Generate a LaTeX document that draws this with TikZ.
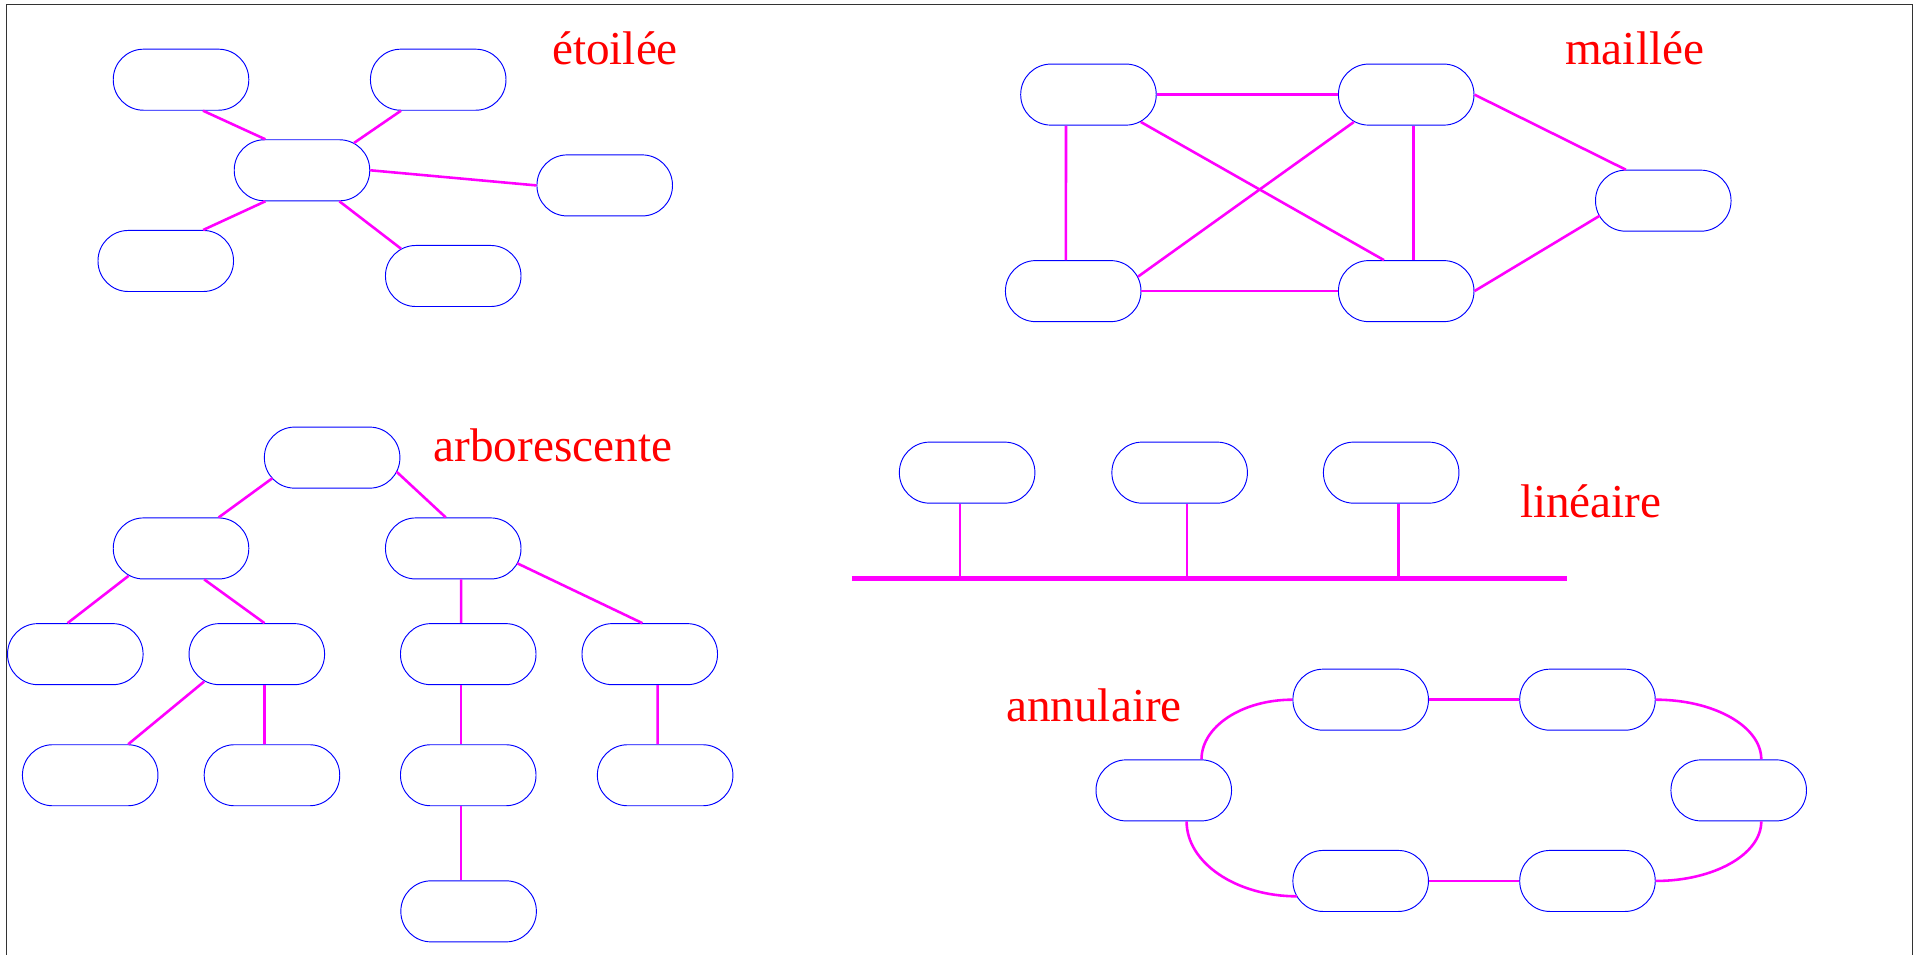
\documentclass[tikz,border=0pt]{standalone}
\usepackage{fontspec}
\setmainfont{Liberation Serif}
\usetikzlibrary{calc}
\definecolor{mag}{RGB}{255,0,255}
\definecolor{hostblue}{RGB}{0,0,255}
\definecolor{lblred}{RGB}{255,0,0}
\tikzset{
  host/.style={draw=hostblue, line width=0.55pt, rounded corners=0.62cm, minimum width=2.775cm, minimum height=1.25cm, inner sep=0pt},
  link/.style={draw=mag, line width=1.5pt},
  busline/.style={draw=mag, line width=3.1pt},
  lbl/.style={text=lblred, font=\fontsize{27.5}{33}\selectfont, anchor=base west, inner sep=0pt},
  frame/.style={draw=black!80, line width=0.6pt}
}
\newcommand\ringarc[2]{\draw[link] (#1) .. controls ($(#1)!0.5523!(#2 |- #1)$) and ($(#2)!0.5523!(#2 |- #1)$) .. (#2);}
\begin{document}
\begin{tikzpicture}[x=0.025cm, y=-0.025cm]
\useasboundingbox (0,0) rectangle (1568,782);
\coordinate (fBL) at (5.5,782);
\coordinate (fTL) at (5.5,3.7);
\coordinate (fTR) at (1566.4,3.7);
\coordinate (fBR) at (1566.4,782);
\draw[frame] (fBL) -- (fTL) -- (fTR) -- (fBR);

% ---------- etoilee ----------
\node[host] (sA) at (148.3,65.3) {};
\node[host] (sB) at (359,65.3) {};
\node[host] (sC) at (247.4,139.5) {};
\node[host] (sD) at (495.4,151.9) {};
\node[host] (sE) at (135.8,213.8) {};
\node[host] (sF) at (371.3,226.1) {};
\draw[link] ($(sA.south)+(18,0)$) -- ($(sC.north)+(-30,0)$);
\draw[link] ($(sB.south)+(-30.5,0)$) -- ($(sC.north)+(42.6,3)$);
\draw[link] (sC.east) -- (sD.west);
\draw[link] ($(sC.south)+(-30,0)$) -- ($(sE.north)+(30.6,0)$);
\draw[link] ($(sC.south)+(30.6,0)$) -- ($(sF.north)+(-42.8,3)$);
\node[lbl] (tEt) at (452,53) {étoilée};

% ---------- maillee ----------
\node[host] (mA) at (891.7,77.5) {};
\node[host] (mB) at (1152,77.5) {};
\node[host] (mC) at (1362.6,164.4) {};
\node[host] (mD) at (879.2,238.5) {};
\node[host] (mE) at (1152,238.5) {};
\draw[link] (mA.east) -- (mB.west);
\draw[link] ($(mA.south)+(-18.4,0)$) -- ($(mD.north)+(-6,0)$);
\draw[link] ($(mA.south)+(42.8,-3)$) -- ($(mE.north)+(-18.2,0)$);
\draw[link] ($(mB.south)+(-42.8,-3)$) -- ($(mD)+(53,-11.8)$);
\draw[link] ($(mB.south)+(6,0)$) -- ($(mE.north)+(6,0)$);
\draw[link] (mB.east) -- ($(mC.north)+(-30.7,0)$);
\draw[link] (mD.east) -- (mE.west);
\draw[link] (mE.east) -- ($(mC)+(-52,12.3)$);
\node[lbl] (tMa) at (1282,53) {maillée};

% ---------- arborescente ----------
\node[host] (tR) at (272.1,374.9) {};
\node[host] (tL) at (148.3,449.3) {};
\node[host] (tRr) at (371.3,449.3) {};
\node[host] (tLa) at (61.7,535.9) {};
\node[host] (tLb) at (210.4,535.9) {};
\node[host] (tRa) at (383.6,535.9) {};
\node[host] (tRb) at (532.3,535.9) {};
\node[host] (tLba) at (73.9,635.1) {};
\node[host] (tLbb) at (222.8,635.1) {};
\node[host] (tRaa) at (383.6,635.1) {};
\node[host] (tRba) at (544.9,635.1) {};
\node[host] (tRaaa) at (383.9,746.6) {};
\draw[link] ($(tR)+(-49,16.9)$) -- ($(tL.north)+(30.8,0)$);
\draw[link] ($(tR)+(52.7,11.5)$) -- ($(tRr.north)+(-6.1,0)$);
\draw[link] ($(tL.south)+(-42.9,-3)$) -- ($(tLa.north)+(-6.4,0)$);
\draw[link] ($(tL.south)+(19,0)$) -- ($(tLb.north)+(6.3,0)$);
\draw[link] ($(tRr.south)+(6.4,0)$) -- ($(tRa.north)+(-5.9,0)$);
\draw[link] ($(tRr)+(52.5,12.2)$) -- ($(tRb.north)+(-6,0)$);
\draw[link] ($(tLb.south)+(-43.1,-3)$) -- ($(tLba.north)+(31.1,0)$);
\draw[link] ($(tLb.south)+(6.3,0)$) -- ($(tLbb.north)+(-6.1,0)$);
\draw[link] ($(tRa.south)+(-5.9,0)$) -- ($(tRaa.north)+(-5.9,0)$);
\draw[link] ($(tRb.south)+(6.5,0)$) -- ($(tRba.north)+(-6.1,0)$);
\draw[link] ($(tRaa.south)+(-5.9,0)$) -- ($(tRaaa.north)+(-6.2,0)$);
\node[lbl] (tAr) at (355,378) {arborescente};

% ---------- lineaire ----------
\node[host] (lA) at (792.3,387.2) {};
\node[host] (lB) at (966.4,387.2) {};
\node[host] (lC) at (1139.7,387.2) {};
\coordinate (busL) at (697.8,474);
\coordinate (busR) at (1283.7,474);
\draw[busline] (busL) -- (busR);
\coordinate (dA) at ($(lA.south)+(-5.9,0)$);
\coordinate (dB) at ($(lB.south)+(6.1,0)$);
\coordinate (dC) at ($(lC.south)+(6.1,0)$);
\draw[link] (dA) -- (dA |- busL);
\draw[link] (dB) -- (dB |- busL);
\draw[link] (dC) -- (dC |- busL);
\node[lbl] (tLi) at (1245,424) {linéaire};

% ---------- annulaire ----------
\node[host] (rA) at (1114.7,573.2) {};
\node[host] (rB) at (1300.5,573.2) {};
\node[host] (rC) at (1424.4,647.5) {};
\node[host] (rD) at (1300.5,721.7) {};
\node[host] (rE) at (1114.7,721.7) {};
\node[host] (rF) at (953.4,647.5) {};
\draw[link] (rA.east) -- (rB.west);
\draw[link] (rE.east) -- (rD.west);
\coordinate (rBe) at (rB.east);
\coordinate (rCt) at ($(rC.north)+(18.5,0)$);
\coordinate (rCb) at ($(rC.south)+(18.5,0)$);
\coordinate (rDe) at (rD.east);
\coordinate (rEw) at ($(rE)+(-52,12.6)$);
\coordinate (rFb) at ($(rF.south)+(18.7,0)$);
\coordinate (rFt) at ($(rF.north)+(30.9,0)$);
\coordinate (rAw) at (rA.west);
\ringarc{rBe}{rCt}
\ringarc{rDe}{rCb}
\ringarc{rEw}{rFb}
\ringarc{rAw}{rFt}
\node[lbl] (tAn) at (824,591) {annulaire};
\end{tikzpicture}
\end{document}
